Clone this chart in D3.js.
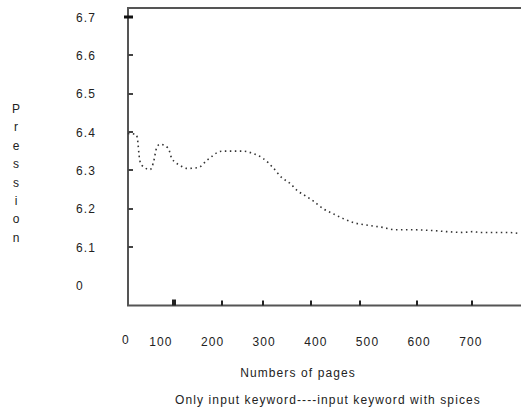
<!DOCTYPE html>
<html>
<head>
<meta charset="utf-8">
<script src="https://cdn.jsdelivr.net/npm/d3@7"></script>
<style>
  html, body { margin: 0; padding: 0; background: #fff; }
  svg text { font-family: "Liberation Sans", Arial, sans-serif; font-size: 12px; fill: #222; letter-spacing: 1.1px; }
</style>
</head>
<body>
<svg id="chart" width="521" height="411"></svg>
<script>
// ---- data ----
const pages = [36, 52, 54, 59, 63, 79, 85, 92, 98, 114, 121, 137, 150, 172, 189, 218, 259, 278, 298, 317, 334, 350, 364, 379, 394, 414, 433, 453, 472, 505, 530, 553, 582, 625, 654, 685, 704, 718, 743, 770, 795];
const precision = [6.396, 6.394, 6.386, 6.326, 6.313, 6.302, 6.318, 6.360, 6.368, 6.358, 6.331, 6.313, 6.305, 6.307, 6.326, 6.350, 6.350, 6.344, 6.331, 6.307, 6.281, 6.266, 6.247, 6.234, 6.221, 6.200, 6.187, 6.174, 6.164, 6.156, 6.151, 6.145, 6.145, 6.143, 6.140, 6.138, 6.140, 6.138, 6.138, 6.138, 6.135];
const yTickValues = [6.0, 6.1, 6.2, 6.3, 6.4, 6.5, 6.6, 6.7];
const yTickLabels = ["0", "6.1", "6.2", "6.3", "6.4", "6.5", "6.6", "6.7"];
const xTickValues = [0, 100, 200, 300, 400, 500, 600, 700];
const xTickLabels = ["0", "100", "200", "300", "400", "500", "600", "700"];
const xTickMarks = [125, 218, 298, 391, 486, 596, 702];
const yTickMarks = [6.1, 6.2, 6.3, 6.4, 6.5, 6.6, 6.7];
const yTitle = "Pression";
const xTitle = "Numbers of pages";
const caption = "Only input keyword----input keyword with spices";

// ---- layout ----
const svg = d3.select("#chart");
const x = d3.scaleLinear().domain([0, 700]).range([109.3, 470.8]);
const y = d3.scaleLinear().domain([6.1, 6.7]).range([247, 17]);
const axisX = 128, bottomY = 305.5, topY = 8, rightX = 521;
const axisColor = "#555";

// frame: left axis, top border, bottom axis
svg.append("path")
  .attr("d", `M${rightX},${topY}H${axisX}V${bottomY}H${rightX}`)
  .attr("fill", "none").attr("stroke", axisColor).attr("stroke-width", 2);

// y ticks (inside)
const lastY = yTickMarks.length - 1;
svg.selectAll("line.ytick").data(yTickMarks).join("line")
  .attr("class", "ytick")
  .attr("x1", (d, i) => i === lastY ? axisX - 4 : axisX)
  .attr("x2", axisX + 5)
  .attr("y1", d => Math.round(y(d))).attr("y2", d => Math.round(y(d)))
  .attr("stroke", (d, i) => i === lastY ? "#111" : "#444")
  .attr("stroke-width", (d, i) => i === lastY ? 3 : 2);

// x ticks (inside)
svg.selectAll("line.xtick").data(xTickMarks).join("line")
  .attr("class", "xtick")
  .attr("x1", d => Math.round(x(d))).attr("x2", d => Math.round(x(d)))
  .attr("y1", bottomY).attr("y2", (d, i) => i === 0 ? bottomY - 6 : bottomY - 5)
  .attr("stroke", "#222")
  .attr("stroke-width", (d, i) => i === 0 ? 4 : 2);

// y labels
svg.selectAll("text.ylab").data(yTickValues).join("text")
  .attr("class", "ylab")
  .attr("x", 76)
  .attr("y", d => y(d) + 4.5)
  .text((d, i) => yTickLabels[i]);

// x labels
svg.selectAll("text.xlab").data(xTickValues).join("text")
  .attr("class", "xlab")
  .attr("x", d => d === 0 ? axisX - 2 : x(d))
  .attr("y", d => d === 0 ? 344 : 346)
  .attr("text-anchor", "middle")
  .text((d, i) => xTickLabels[i]);

// y title (stacked letters)
svg.selectAll("text.ytitle").data(yTitle.split("")).join("text")
  .attr("class", "ytitle")
  .attr("x", 16)
  .attr("y", (d, i) => 113 + i * 18.4)
  .attr("text-anchor", "middle")
  .style("letter-spacing", "0px")
  .text(d => d);

svg.append("text").attr("x", 298).attr("y", 377).attr("text-anchor", "middle").text(xTitle);
svg.append("text").attr("x", 328).attr("y", 404).attr("text-anchor", "middle").text(caption);

// dotted curve
const line = d3.line()
  .x(d => x(d[0])).y(d => y(d[1]))
  .curve(d3.curveMonotoneX);
svg.append("path")
  .datum(pages.map((p, i) => [p, precision[i]]))
  .attr("d", line)
  .attr("fill", "none")
  .attr("stroke", "#333")
  .attr("stroke-width", 1.6)
  .attr("stroke-dasharray", "1.5,3.5");
</script>
</body>
</html>
